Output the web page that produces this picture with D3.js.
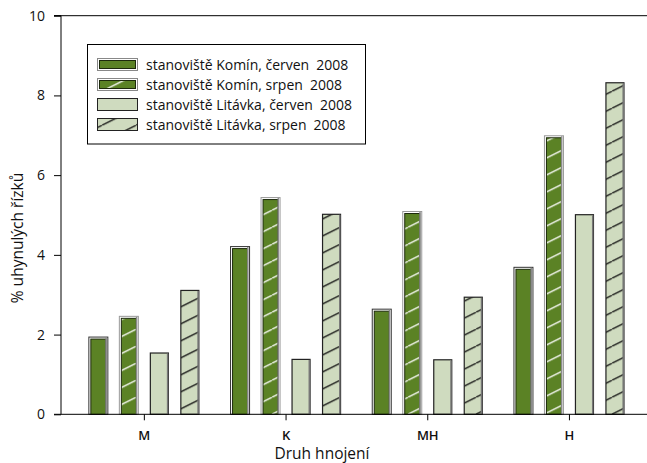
<!DOCTYPE html>
<html><head><meta charset="utf-8">
<script src="https://cdn.jsdelivr.net/npm/d3@7"></script>
<style>html,body{margin:0;padding:0;background:#fff;} svg{display:block;font-family:"Open Sans",sans-serif;}</style>
</head><body>
<svg id="c" width="647" height="463"></svg>
<script>
const categories = ["M", "K", "MH", "H"];
const seriesNames = ["stanoviště Komín, červen", "stanoviště Komín, srpen", "stanoviště Litávka, červen", "stanoviště Litávka, srpen"];
const seriesYears = ["2008", "2008", "2008", "2008"];
const komin_cerven = [1.90, 4.17, 2.60, 3.65];
const komin_srpen = [2.42, 5.40, 5.05, 6.95];
const litavka_cerven = [1.55, 1.39, 1.38, 5.02];
const litavka_srpen = [3.12, 5.03, 2.95, 8.33];
const yTicks = [0, 2, 4, 6, 8, 10];

const series = [komin_cerven, komin_srpen, litavka_cerven, litavka_srpen];
const GREEN = "#5b8225", LIGHT = "#cfdbbf";
const styles = [
  {fill: GREEN, hatch: null, halo: true},
  {fill: GREEN, hatch: "#ffffff", halo: true},
  {fill: LIGHT, hatch: null, halo: false},
  {fill: LIGHT, hatch: "#111111", halo: false}
];

const svg = d3.select("#c");
const x0 = 61, yBase = 414.3, yTop = 15.7;
const y = d3.scaleLinear().domain([0, 10]).range([yBase, yTop]);
const x = d3.scaleBand().domain(categories).range([73.5, 640.3]).padding(0);
const xs = d3.scaleBand().domain(d3.range(4)).range([-56, 55.5]).paddingInner(0.344).paddingOuter(0);

// patterns
const defs = svg.append("defs");
styles.forEach((s, i) => {
  if (!s.hatch) return;
  const p = defs.append("pattern").attr("id", "h" + i).attr("patternUnits", "userSpaceOnUse")
    .attr("width", 34).attr("height", 17).attr("y", yBase);
  p.append("rect").attr("width", 34).attr("height", 17).attr("fill", s.fill);
  [[0, 17, 34, 0], [-34, 17, 0, 0], [34, 17, 68, 0]].forEach(l =>
    p.append("line").attr("x1", l[0]).attr("y1", l[1]).attr("x2", l[2]).attr("y2", l[3])
      .attr("stroke", s.hatch).attr("stroke-width", 1.3));
});

// top frame line
svg.append("line").attr("x1", 54).attr("x2", 647).attr("y1", y(10)).attr("y2", y(10))
  .attr("stroke", "#000").attr("stroke-width", 1);

// bars
categories.forEach((c, ci) => {
  const cx = x(c) + x.bandwidth() / 2;
  series.forEach((vals, si) => {
    const v = vals[ci], s = styles[si];
    const bx = cx + xs(si), bw = xs.bandwidth();
    const by = y(v), bh = yBase - y(v);
    const g = svg.append("g");
    if (s.halo) {
      g.append("rect").attr("x", bx + 0.5).attr("y", by - 1.5).attr("width", bw - 1).attr("height", bh + 1.5)
        .attr("fill", "#fff").attr("stroke", si === 1 ? "#999" : "#333").attr("stroke-width", 1);
      g.append("rect").attr("x", bx + 2.5).attr("y", by + 0.5).attr("width", bw - 5).attr("height", bh - 0.5)
        .attr("fill", s.hatch ? "url(#h" + si + ")" : s.fill).attr("stroke", "#1d2a0c").attr("stroke-width", 1);
      g.append("rect").attr("x", bx + bw - 3).attr("y", by - 1).attr("width", 1.5).attr("height", bh + 1)
        .attr("fill", "#8a8a8a");
    } else {
      g.append("rect").attr("x", bx + 1).attr("y", by + 0.5).attr("width", bw - 2).attr("height", bh - 0.5)
        .attr("fill", s.hatch ? "url(#h" + si + ")" : s.fill).attr("stroke", "#222").attr("stroke-width", 1.2);
      g.append("rect").attr("x", bx + bw - 2.5).attr("y", by + 1).attr("width", 1.5).attr("height", bh - 1)
        .attr("fill", "#777");
    }
  });
});

// y axis
const yAxis = svg.append("g").attr("transform", `translate(${x0},0)`)
  .call(d3.axisLeft(y).tickValues(yTicks).tickSize(7).tickPadding(9).tickFormat(d3.format("d")));
yAxis.select(".domain").attr("d", `M-7,${y(10)}H0V${yBase}`).attr("stroke", "#000");
yAxis.selectAll("text").attr("font-size", 14).attr("fill", "#111").attr("font-family", "Open Sans");

// x axis
const xAxis = svg.append("g").attr("transform", `translate(0,${yBase})`)
  .call(d3.axisBottom(x).tickSize(6).tickPadding(10));
xAxis.select(".domain").attr("d", `M${x0 - 7},0H647`).attr("stroke", "#000");
xAxis.selectAll("text").attr("font-size", 13).attr("fill", "#111").attr("font-weight", 600).attr("font-family", "Open Sans");

// axis titles
svg.append("text").attr("x", 322).attr("y", 459).attr("text-anchor", "middle")
  .attr("font-size", 15.5).attr("fill", "#111").text("Druh hnojení");
svg.append("text").attr("transform", "translate(23,238) rotate(-90)").attr("text-anchor", "middle")
  .attr("font-size", 15.5).attr("fill", "#111").text("% uhynulých řízků");

// legend
const lg = svg.append("g");
lg.append("rect").attr("x", 87.5).attr("y", 44.5).attr("width", 278).attr("height", 99.5)
  .attr("fill", "#fff").attr("stroke", "#000").attr("stroke-width", 1);
const rowY = d3.scalePoint().domain(d3.range(4)).range([64.5, 124.5]);
seriesNames.forEach((n, i) => {
  const s = styles[i], ry = rowY(i);
  if (s.halo) {
    lg.append("rect").attr("x", 97.5).attr("y", ry - 6).attr("width", 40).attr("height", 12)
      .attr("fill", "#fff").attr("stroke", "#888");
    lg.append("rect").attr("x", 99.5).attr("y", ry - 4).attr("width", 36).attr("height", 8)
      .attr("fill", s.hatch ? "url(#h" + i + ")" : s.fill).attr("stroke", "#1d2a0c");
  } else {
    lg.append("rect").attr("x", 97.5).attr("y", ry - 6).attr("width", 40).attr("height", 12)
      .attr("fill", s.hatch ? "url(#h" + i + ")" : s.fill).attr("stroke", "#222");
  }
  const t = lg.append("text").attr("x", 146).attr("y", ry + 5).attr("font-size", 14).attr("fill", "#111");
  t.append("tspan").text(n);
  t.append("tspan").attr("dx", 7).text(seriesYears[i]);
});
</script>
</body></html>
